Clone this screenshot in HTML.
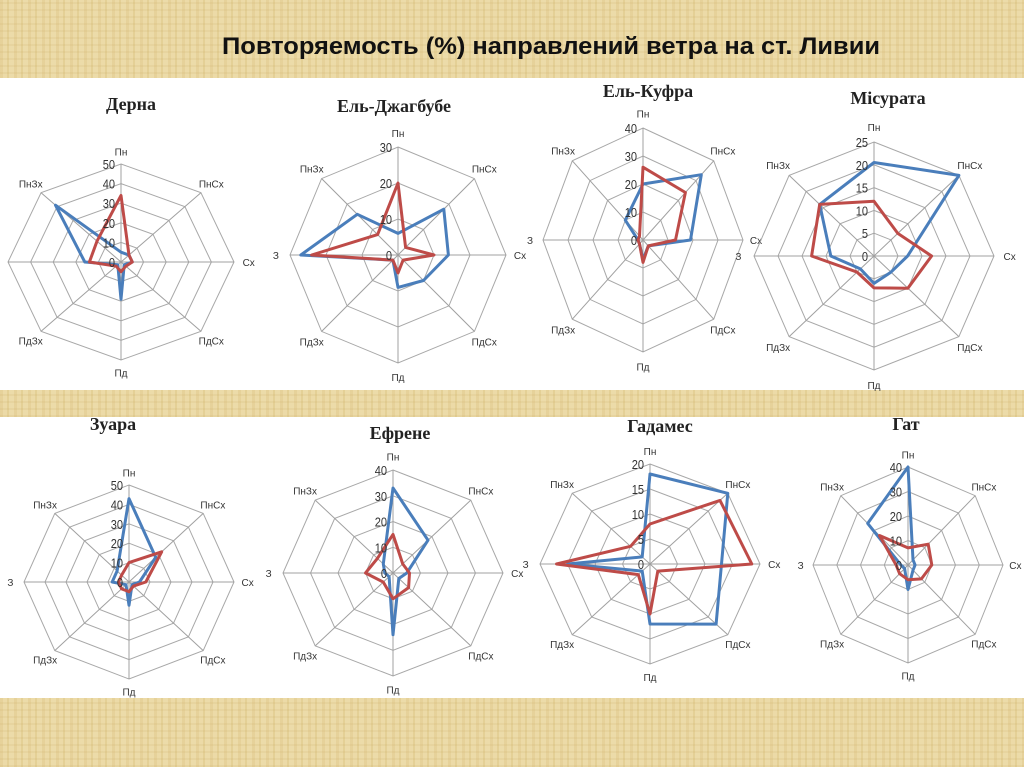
<!DOCTYPE html>
<html><head><meta charset="utf-8"><style>
html,body{margin:0;padding:0;}
body{width:1024px;height:767px;overflow:hidden;background:#e8d5a0;position:relative;font-family:"Liberation Sans",sans-serif;}
.bg{position:absolute;left:0;top:0;width:1024px;height:767px;background:repeating-linear-gradient(90deg,#e6d199 0 3px,#ecdba8 3px 7px,#e3cf95 7px 9px,#eddcaa 9px 14px);opacity:.9}
.bg2{position:absolute;left:0;top:0;width:1024px;height:767px;background:repeating-linear-gradient(0deg,rgba(200,170,100,.15) 0 2px,rgba(255,255,255,0) 2px 7px);}
svg{position:absolute;left:0;top:0}
</style></head><body>
<div class="bg"></div><div class="bg2"></div>
<svg id="s" width="1024" height="767" viewBox="0 0 1024 767">
<rect x="0" y="78" width="1024" height="312" fill="#fff"/>
<rect x="0" y="417" width="1024" height="281" fill="#fff"/>
<text x="222" y="54" font-family="Liberation Sans, sans-serif" font-weight="bold" font-size="24" textLength="658" lengthAdjust="spacingAndGlyphs" fill="#111">Повторяемость (%) направлений ветра на ст. Ливии</text>
<g font-family="Liberation Serif, serif" font-weight="bold" font-size="18" text-anchor="middle" fill="#222">
<text x="131" y="110">Дерна</text>
<text x="394" y="112">Ель-Джагбубе</text>
<text x="648" y="97">Ель-Куфра</text>
<text x="888" y="104">Місурата</text>
<text x="113" y="430">Зуара</text>
<text x="400" y="439">Ефрене</text>
<text x="660" y="432">Гадамес</text>
<text x="906" y="430">Гат</text>
</g>
<g id="charts"></g>
</svg>
<script>
var D=["Пн","ПнСх","Сх","ПдСх","Пд","ПдЗх","З","ПнЗх"];
var C=[
{cx:121,cy:262,rx:113,ry:98,max:50,step:10,b:[5,5,5,2,19,2,16,41],r:[34,5,5,3,5,3,14,15]},
{cx:398,cy:255,rx:108,ry:108,max:30,step:10,b:[6,18,14,10,9,2,27,16],r:[20,3,10,2,5,2,24,8]},
{cx:643,cy:240,rx:100,ry:112,max:40,step:10,b:[20,33,19,3,7,2,2,10],r:[26,24,13,3,8,2,2,2]},
{cx:874,cy:256,rx:120,ry:114,max:25,step:5,b:[20.5,25,7,5,6,4,9,16],r:[12,7,12,10,7,5,13,16]},
{cx:129,cy:582,rx:105,ry:97,max:50,step:10,b:[43,18,5,2,12,2,8,8],r:[10,22,8,3,5,5,5,5]},
{cx:393,cy:573,rx:110,ry:103,max:40,step:10,b:[33,18,5,3,24,2,3,5],r:[15,5,6,8,10,5,10,8]},
{cx:650,cy:564,rx:110,ry:100,max:20,step:5,b:[18,20,13,17,12,2,15,2],r:[8,18,18.5,2,10,3,17,5]},
{cx:908,cy:565,rx:95,ry:98,max:40,step:10,b:[40,3,3,3,10,2,3,24],r:[7,12,10,8,6,5,5,17]}
];
var NS="http://www.w3.org/2000/svg",g=document.getElementById("charts");
function el(t,a,txt){var e=document.createElementNS(NS,t);for(var k in a)e.setAttribute(k,a[k]);if(txt!=null)e.textContent=txt;g.appendChild(e);return e;}
function pt(c,i,v){var a=i*Math.PI/4;return [c.cx+Math.sin(a)*c.rx*v/c.max,c.cy-Math.cos(a)*c.ry*v/c.max];}
function poly(c,arr){return arr.map(function(v,i){var p=pt(c,i,v);return p[0].toFixed(1)+","+p[1].toFixed(1)}).join(" ");}
C.forEach(function(c){
 for(var v=c.step;v<=c.max+0.01;v+=c.step){el("polygon",{points:poly(c,[v,v,v,v,v,v,v,v]),fill:"none",stroke:"#a8a8a8","stroke-width":1});}
 for(var i=0;i<8;i++){var p=pt(c,i,c.max);el("line",{x1:c.cx,y1:c.cy,x2:p[0],y2:p[1],stroke:"#a0a0a0","stroke-width":1});
  var q=pt(c,i,c.max*1.13);el("text",{x:q[0],y:q[1]+4,"font-size":10,"text-anchor":"middle",fill:"#333","font-family":"Liberation Sans, sans-serif"},D[i]);}
 el("polygon",{points:poly(c,c.b),fill:"none",stroke:"#4a7ebb","stroke-width":3,"stroke-linejoin":"round"});
 el("polygon",{points:poly(c,c.r),fill:"none",stroke:"#be4b48","stroke-width":3,"stroke-linejoin":"round"});
 for(var v=0;v<=c.max+0.01;v+=c.step){var x=c.cx-6,y=c.cy-c.ry*v/c.max+5;el("text",{x:0,y:0,transform:"translate("+x+","+y+") scale(0.85,1)","font-size":13,"text-anchor":"end",fill:"#333","font-family":"Liberation Sans, sans-serif"},String(v));}
});
</script>
</body></html>
